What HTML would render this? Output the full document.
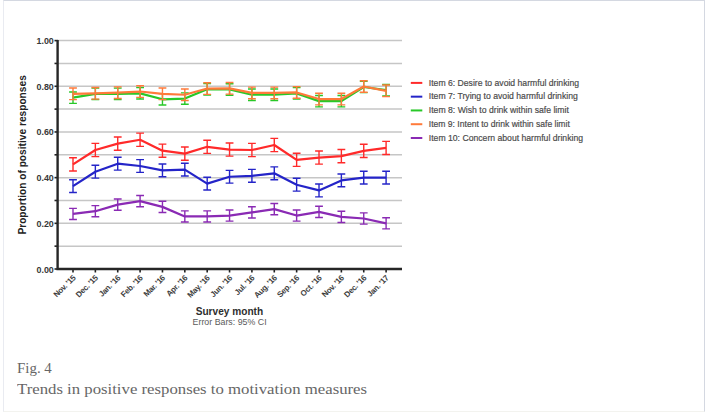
<!DOCTYPE html>
<html><head><meta charset="utf-8">
<style>
html,body{margin:0;padding:0;background:#fff;}
body{width:708px;height:412px;position:relative;overflow:hidden;}
.frame{position:absolute;left:3px;top:0;width:702px;height:412px;border-top:1px solid #d4d8e1;border-right:1px solid #d4d8e1;border-left:1px solid #e9ebf1;border-bottom:1px solid #f3f3ef;box-sizing:border-box;}
svg{position:absolute;left:0;top:0;}
text{font-family:"Liberation Sans",sans-serif;}
.leg{font-size:9.9px;fill:#4a4a4a;stroke:#4a4a4a;stroke-width:0.2px;}
.yl{font-size:9.8px;font-weight:bold;fill:#383838;}
.xl{font-size:8px;font-weight:bold;fill:#3d3d3d;letter-spacing:-0.3px;}
.yt{font-size:10.5px;font-weight:bold;fill:#222;}
.xt{font-size:10.2px;font-weight:bold;fill:#2e2e2e;}
.eb{font-size:9.3px;fill:#5a5a5a;}
.cap{position:absolute;left:16.5px;font-family:"Liberation Serif",serif;color:#666;font-size:14px;white-space:nowrap;line-height:1;}
</style></head><body>
<div class="frame"></div>
<svg width="708" height="412" viewBox="0 0 708 412">
<line x1="57.6" y1="246.16" x2="402" y2="246.16" stroke="#c6c6c6" stroke-width="1.5"/>
<line x1="57.6" y1="223.32" x2="402" y2="223.32" stroke="#c6c6c6" stroke-width="1.5"/>
<line x1="57.6" y1="200.48" x2="402" y2="200.48" stroke="#c6c6c6" stroke-width="1.5"/>
<line x1="57.6" y1="177.64" x2="402" y2="177.64" stroke="#c6c6c6" stroke-width="1.5"/>
<line x1="57.6" y1="154.80" x2="402" y2="154.80" stroke="#c6c6c6" stroke-width="1.5"/>
<line x1="57.6" y1="131.96" x2="402" y2="131.96" stroke="#c6c6c6" stroke-width="1.5"/>
<line x1="57.6" y1="109.12" x2="402" y2="109.12" stroke="#c6c6c6" stroke-width="1.5"/>
<line x1="57.6" y1="86.28" x2="402" y2="86.28" stroke="#c6c6c6" stroke-width="1.5"/>
<line x1="57.6" y1="63.44" x2="402" y2="63.44" stroke="#c6c6c6" stroke-width="1.5"/>
<line x1="57.6" y1="40.60" x2="402" y2="40.60" stroke="#c6c6c6" stroke-width="1.5"/>
<line x1="54.5" y1="269.00" x2="58" y2="269.00" stroke="#222" stroke-width="1.6"/>
<line x1="54.5" y1="246.16" x2="58" y2="246.16" stroke="#222" stroke-width="1.6"/>
<line x1="54.5" y1="223.32" x2="58" y2="223.32" stroke="#222" stroke-width="1.6"/>
<line x1="54.5" y1="200.48" x2="58" y2="200.48" stroke="#222" stroke-width="1.6"/>
<line x1="54.5" y1="177.64" x2="58" y2="177.64" stroke="#222" stroke-width="1.6"/>
<line x1="54.5" y1="154.80" x2="58" y2="154.80" stroke="#222" stroke-width="1.6"/>
<line x1="54.5" y1="131.96" x2="58" y2="131.96" stroke="#222" stroke-width="1.6"/>
<line x1="54.5" y1="109.12" x2="58" y2="109.12" stroke="#222" stroke-width="1.6"/>
<line x1="54.5" y1="86.28" x2="58" y2="86.28" stroke="#222" stroke-width="1.6"/>
<line x1="54.5" y1="63.44" x2="58" y2="63.44" stroke="#222" stroke-width="1.6"/>
<line x1="54.5" y1="40.60" x2="58" y2="40.60" stroke="#222" stroke-width="1.6"/>
<line x1="73.00" y1="268" x2="73.00" y2="272.5" stroke="#222" stroke-width="1.6"/>
<line x1="95.36" y1="268" x2="95.36" y2="272.5" stroke="#222" stroke-width="1.6"/>
<line x1="117.73" y1="268" x2="117.73" y2="272.5" stroke="#222" stroke-width="1.6"/>
<line x1="140.09" y1="268" x2="140.09" y2="272.5" stroke="#222" stroke-width="1.6"/>
<line x1="162.46" y1="268" x2="162.46" y2="272.5" stroke="#222" stroke-width="1.6"/>
<line x1="184.82" y1="268" x2="184.82" y2="272.5" stroke="#222" stroke-width="1.6"/>
<line x1="207.19" y1="268" x2="207.19" y2="272.5" stroke="#222" stroke-width="1.6"/>
<line x1="229.55" y1="268" x2="229.55" y2="272.5" stroke="#222" stroke-width="1.6"/>
<line x1="251.91" y1="268" x2="251.91" y2="272.5" stroke="#222" stroke-width="1.6"/>
<line x1="274.28" y1="268" x2="274.28" y2="272.5" stroke="#222" stroke-width="1.6"/>
<line x1="296.64" y1="268" x2="296.64" y2="272.5" stroke="#222" stroke-width="1.6"/>
<line x1="319.01" y1="268" x2="319.01" y2="272.5" stroke="#222" stroke-width="1.6"/>
<line x1="341.37" y1="268" x2="341.37" y2="272.5" stroke="#222" stroke-width="1.6"/>
<line x1="363.74" y1="268" x2="363.74" y2="272.5" stroke="#222" stroke-width="1.6"/>
<line x1="386.10" y1="268" x2="386.10" y2="272.5" stroke="#222" stroke-width="1.6"/>
<path d="M57.6 40 V269 H402" fill="none" stroke="#262626" stroke-width="2.4"/>
<polyline points="73.00,164.39 95.36,150.00 117.73,143.61 140.09,139.73 162.46,150.69 184.82,153.66 207.19,146.81 229.55,149.55 251.91,150.00 274.28,144.98 296.64,159.82 319.01,157.54 341.37,156.17 363.74,150.92 386.10,147.95" fill="none" stroke="#ff2a2a" stroke-width="2.2" stroke-linejoin="round"/>
<path d="M73.00 157.79V170.99M69.10 157.79H76.90M69.10 170.99H76.90M95.36 143.40V156.60M91.46 143.40H99.26M91.46 156.60H99.26M117.73 137.01V150.21M113.83 137.01H121.63M113.83 150.21H121.63M140.09 133.13V146.33M136.19 133.13H143.99M136.19 146.33H143.99M162.46 144.09V157.29M158.56 144.09H166.36M158.56 157.29H166.36M184.82 147.06V160.26M180.92 147.06H188.72M180.92 160.26H188.72M207.19 140.21V153.41M203.29 140.21H211.09M203.29 153.41H211.09M229.55 142.95V156.15M225.65 142.95H233.45M225.65 156.15H233.45M251.91 143.40V156.60M248.01 143.40H255.81M248.01 156.60H255.81M274.28 138.38V151.58M270.38 138.38H278.18M270.38 151.58H278.18M296.64 153.22V166.42M292.74 153.22H300.54M292.74 166.42H300.54M319.01 150.94V164.14M315.11 150.94H322.91M315.11 164.14H322.91M341.37 149.57V162.77M337.47 149.57H345.27M337.47 162.77H345.27M363.74 144.32V157.52M359.84 144.32H367.64M359.84 157.52H367.64M386.10 141.35V154.55M382.20 141.35H390.00M382.20 154.55H390.00" fill="none" stroke="#ff2a2a" stroke-width="1.4"/>
<polyline points="73.00,186.09 95.36,171.70 117.73,163.71 140.09,165.99 162.46,170.33 184.82,169.65 207.19,183.58 229.55,176.73 251.91,175.81 274.28,173.30 296.64,184.72 319.01,190.43 341.37,180.38 363.74,177.64 386.10,177.64" fill="none" stroke="#2424c8" stroke-width="2.2" stroke-linejoin="round"/>
<path d="M73.00 179.69V192.49M69.10 179.69H76.90M69.10 192.49H76.90M95.36 165.30V178.10M91.46 165.30H99.26M91.46 178.10H99.26M117.73 157.31V170.11M113.83 157.31H121.63M113.83 170.11H121.63M140.09 159.59V172.39M136.19 159.59H143.99M136.19 172.39H143.99M162.46 163.93V176.73M158.56 163.93H166.36M158.56 176.73H166.36M184.82 163.25V176.05M180.92 163.25H188.72M180.92 176.05H188.72M207.19 177.18V189.98M203.29 177.18H211.09M203.29 189.98H211.09M229.55 170.33V183.13M225.65 170.33H233.45M225.65 183.13H233.45M251.91 169.41V182.21M248.01 169.41H255.81M248.01 182.21H255.81M274.28 166.90V179.70M270.38 166.90H278.18M270.38 179.70H278.18M296.64 178.32V191.12M292.74 178.32H300.54M292.74 191.12H300.54M319.01 184.03V196.83M315.11 184.03H322.91M315.11 196.83H322.91M341.37 173.98V186.78M337.47 173.98H345.27M337.47 186.78H345.27M363.74 171.24V184.04M359.84 171.24H367.64M359.84 184.04H367.64M386.10 171.24V184.04M382.20 171.24H390.00M382.20 184.04H390.00" fill="none" stroke="#2424c8" stroke-width="1.4"/>
<polyline points="73.00,97.70 95.36,93.82 117.73,93.82 140.09,93.36 162.46,99.30 184.82,98.61 207.19,89.25 229.55,89.48 251.91,94.73 274.28,94.73 296.64,93.36 319.01,101.13 341.37,101.13 363.74,86.97 386.10,90.16" fill="none" stroke="#28c828" stroke-width="2.2" stroke-linejoin="round"/>
<path d="M73.00 92.00V103.40M69.10 92.00H76.90M69.10 103.40H76.90M95.36 88.12V99.52M91.46 88.12H99.26M91.46 99.52H99.26M117.73 88.12V99.52M113.83 88.12H121.63M113.83 99.52H121.63M140.09 87.66V99.06M136.19 87.66H143.99M136.19 99.06H143.99M162.46 93.60V105.00M158.56 93.60H166.36M158.56 105.00H166.36M184.82 92.91V104.31M180.92 92.91H188.72M180.92 104.31H188.72M207.19 83.55V94.95M203.29 83.55H211.09M203.29 94.95H211.09M229.55 83.78V95.18M225.65 83.78H233.45M225.65 95.18H233.45M251.91 89.03V100.43M248.01 89.03H255.81M248.01 100.43H255.81M274.28 89.03V100.43M270.38 89.03H278.18M270.38 100.43H278.18M296.64 87.66V99.06M292.74 87.66H300.54M292.74 99.06H300.54M319.01 95.43V106.83M315.11 95.43H322.91M315.11 106.83H322.91M341.37 95.43V106.83M337.47 95.43H345.27M337.47 106.83H345.27M363.74 81.27V92.67M359.84 81.27H367.64M359.84 92.67H367.64M386.10 84.46V95.86M382.20 84.46H390.00M382.20 95.86H390.00" fill="none" stroke="#28c828" stroke-width="1.4"/>
<polyline points="73.00,93.82 95.36,93.36 117.73,92.68 140.09,91.53 162.46,93.82 184.82,94.73 207.19,88.56 229.55,88.34 251.91,92.90 274.28,92.90 296.64,92.45 319.01,99.07 341.37,99.07 363.74,86.51 386.10,90.85" fill="none" stroke="#ff7a3a" stroke-width="2.2" stroke-linejoin="round"/>
<path d="M73.00 88.02V99.62M69.10 88.02H76.90M69.10 99.62H76.90M95.36 87.56V99.16M91.46 87.56H99.26M91.46 99.16H99.26M117.73 86.88V98.48M113.83 86.88H121.63M113.83 98.48H121.63M140.09 85.73V97.33M136.19 85.73H143.99M136.19 97.33H143.99M162.46 88.02V99.62M158.56 88.02H166.36M158.56 99.62H166.36M184.82 88.93V100.53M180.92 88.93H188.72M180.92 100.53H188.72M207.19 82.76V94.36M203.29 82.76H211.09M203.29 94.36H211.09M229.55 82.54V94.14M225.65 82.54H233.45M225.65 94.14H233.45M251.91 87.10V98.70M248.01 87.10H255.81M248.01 98.70H255.81M274.28 87.10V98.70M270.38 87.10H278.18M270.38 98.70H278.18M296.64 86.65V98.25M292.74 86.65H300.54M292.74 98.25H300.54M319.01 93.27V104.87M315.11 93.27H322.91M315.11 104.87H322.91M341.37 93.27V104.87M337.47 93.27H345.27M337.47 104.87H345.27M363.74 80.71V92.31M359.84 80.71H367.64M359.84 92.31H367.64M386.10 85.05V96.65M382.20 85.05H390.00M382.20 96.65H390.00" fill="none" stroke="#ff7a3a" stroke-width="1.4"/>
<polyline points="73.00,213.96 95.36,211.21 117.73,204.59 140.09,201.17 162.46,206.88 184.82,216.47 207.19,216.47 229.55,215.55 251.91,212.36 274.28,209.16 296.64,215.55 319.01,211.90 341.37,216.92 363.74,218.52 386.10,223.32" fill="none" stroke="#8a2ab4" stroke-width="2.2" stroke-linejoin="round"/>
<path d="M73.00 208.36V219.56M69.10 208.36H76.90M69.10 219.56H76.90M95.36 205.61V216.81M91.46 205.61H99.26M91.46 216.81H99.26M117.73 198.99V210.19M113.83 198.99H121.63M113.83 210.19H121.63M140.09 195.57V206.77M136.19 195.57H143.99M136.19 206.77H143.99M162.46 201.28V212.48M158.56 201.28H166.36M158.56 212.48H166.36M184.82 210.87V222.07M180.92 210.87H188.72M180.92 222.07H188.72M207.19 210.87V222.07M203.29 210.87H211.09M203.29 222.07H211.09M229.55 209.95V221.15M225.65 209.95H233.45M225.65 221.15H233.45M251.91 206.76V217.96M248.01 206.76H255.81M248.01 217.96H255.81M274.28 203.56V214.76M270.38 203.56H278.18M270.38 214.76H278.18M296.64 209.95V221.15M292.74 209.95H300.54M292.74 221.15H300.54M319.01 206.30V217.50M315.11 206.30H322.91M315.11 217.50H322.91M341.37 211.32V222.52M337.47 211.32H345.27M337.47 222.52H345.27M363.74 212.92V224.12M359.84 212.92H367.64M359.84 224.12H367.64M386.10 217.72V228.92M382.20 217.72H390.00M382.20 228.92H390.00" fill="none" stroke="#8a2ab4" stroke-width="1.4"/>
<line x1="410.8" y1="82.90" x2="422.3" y2="82.90" stroke="#ff2a2a" stroke-width="2"/>
<text x="428.8" y="85.50" class="leg" textLength="150.2" lengthAdjust="spacingAndGlyphs">Item 6: Desire to avoid harmful drinking</text>
<line x1="410.8" y1="96.67" x2="422.3" y2="96.67" stroke="#2424c8" stroke-width="2"/>
<text x="428.8" y="99.27" class="leg" textLength="149.0" lengthAdjust="spacingAndGlyphs">Item 7: Trying to avoid harmful drinking</text>
<line x1="410.8" y1="110.44" x2="422.3" y2="110.44" stroke="#28c828" stroke-width="2"/>
<text x="428.8" y="113.04" class="leg" textLength="140.0" lengthAdjust="spacingAndGlyphs">Item 8: Wish to drink within safe limit</text>
<line x1="410.8" y1="124.21" x2="422.3" y2="124.21" stroke="#ff7a3a" stroke-width="2"/>
<text x="428.8" y="126.81" class="leg" textLength="141.0" lengthAdjust="spacingAndGlyphs">Item 9: Intent to drink within safe limit</text>
<line x1="410.8" y1="137.98" x2="422.3" y2="137.98" stroke="#8a2ab4" stroke-width="2"/>
<text x="428.8" y="140.58" class="leg" textLength="154.2" lengthAdjust="spacingAndGlyphs">Item 10: Concern about harmful drinking</text>
<text x="53.8" y="272.50" class="yl" text-anchor="end" textLength="17.3" lengthAdjust="spacingAndGlyphs">0.00</text>
<text x="53.8" y="226.82" class="yl" text-anchor="end" textLength="17.3" lengthAdjust="spacingAndGlyphs">0.20</text>
<text x="53.8" y="181.14" class="yl" text-anchor="end" textLength="17.3" lengthAdjust="spacingAndGlyphs">0.40</text>
<text x="53.8" y="135.46" class="yl" text-anchor="end" textLength="17.3" lengthAdjust="spacingAndGlyphs">0.60</text>
<text x="53.8" y="89.78" class="yl" text-anchor="end" textLength="17.3" lengthAdjust="spacingAndGlyphs">0.80</text>
<text x="53.8" y="44.10" class="yl" text-anchor="end" textLength="17.3" lengthAdjust="spacingAndGlyphs">1.00</text>
<text transform="translate(76.10,278.50) rotate(-45)" class="xl" text-anchor="end">Nov. &#39;15</text>
<text transform="translate(98.46,278.50) rotate(-45)" class="xl" text-anchor="end">Dec. &#39;15</text>
<text transform="translate(120.83,278.50) rotate(-45)" class="xl" text-anchor="end">Jan. &#39;16</text>
<text transform="translate(143.19,278.50) rotate(-45)" class="xl" text-anchor="end">Feb. &#39;16</text>
<text transform="translate(165.56,278.50) rotate(-45)" class="xl" text-anchor="end">Mar. &#39;16</text>
<text transform="translate(187.92,278.50) rotate(-45)" class="xl" text-anchor="end">Apr. &#39;16</text>
<text transform="translate(210.29,278.50) rotate(-45)" class="xl" text-anchor="end">May. &#39;16</text>
<text transform="translate(232.65,278.50) rotate(-45)" class="xl" text-anchor="end">Jun. &#39;16</text>
<text transform="translate(255.01,278.50) rotate(-45)" class="xl" text-anchor="end">Jul. &#39;16</text>
<text transform="translate(277.38,278.50) rotate(-45)" class="xl" text-anchor="end">Aug. &#39;16</text>
<text transform="translate(299.74,278.50) rotate(-45)" class="xl" text-anchor="end">Sep. &#39;16</text>
<text transform="translate(322.11,278.50) rotate(-45)" class="xl" text-anchor="end">Oct. &#39;16</text>
<text transform="translate(344.47,278.50) rotate(-45)" class="xl" text-anchor="end">Nov. &#39;16</text>
<text transform="translate(366.84,278.50) rotate(-45)" class="xl" text-anchor="end">Dec. &#39;16</text>
<text transform="translate(389.20,278.50) rotate(-45)" class="xl" text-anchor="end">Jan. &#39;17</text>
<text transform="translate(26.4,154.9) rotate(-90)" class="yt" text-anchor="middle" textLength="159.4" lengthAdjust="spacingAndGlyphs">Proportion of positive responses</text>
<text x="229.4" y="314.6" class="xt" text-anchor="middle" textLength="67.5" lengthAdjust="spacingAndGlyphs">Survey month</text>
<text x="229.6" y="325.0" class="eb" text-anchor="middle" textLength="74" lengthAdjust="spacingAndGlyphs">Error Bars: 95% CI</text>
</svg>
<div class="cap" style="top:361.6px;transform-origin:0 0;transform:scaleX(1.065)">Fig. 4</div>
<div class="cap" style="top:382.5px;transform-origin:0 0;transform:scaleX(1.196)">Trends in positive responses to motivation measures</div>
</body></html>
